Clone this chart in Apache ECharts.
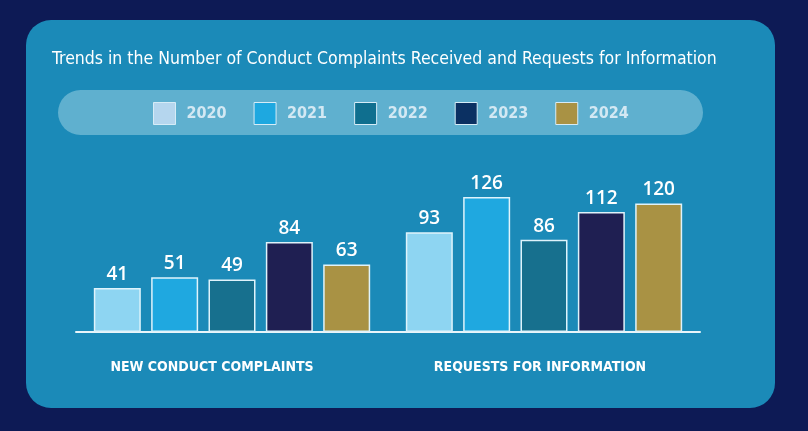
<!DOCTYPE html>
<html>
<head>
<meta charset="utf-8">
<script src="https://cdn.jsdelivr.net/npm/echarts@6/dist/echarts.min.js"></script>
<style>
    html, body { margin: 0; padding: 0; background: #0d1a55; }
    #chart { width: 808px; height: 431px; }
</style>
</head>
<body>
<div id="chart"></div>
<script>
// 数据
const categories = ['NEW CONDUCT COMPLAINTS', 'REQUESTS FOR INFORMATION'];
const years = ['2020', '2021', '2022', '2023', '2024'];
const values2020 = [41, 93];
const values2021 = [51, 126];
const values2022 = [49, 86];
const values2023 = [84, 112];
const values2024 = [63, 120];

const seriesValues = [values2020, values2021, values2022, values2023, values2024];
const barColors = ['#8ed5f2', '#1fa8e0', '#17708e', '#1f1f52', '#a99244'];
const swatchColors = ['#b5d6ee', '#1ea8e0', '#0f6f8f', '#0b3062', '#a99244'];
const labelShift = [40, 8]; // 分类标签左移

// 窄体字：借助 font 简写里的 condensed
const narrow = '"Liberation Sans Narrow", "DejaVu Sans", sans-serif';

const chart = echarts.init(document.getElementById('chart'));

const option = {
    backgroundColor: '#0d1a55',
    animation: false,
    graphic: [
        {
            type: 'rect',
            z: -10,
            shape: { x: 26, y: 20, width: 749, height: 388, r: 25 },
            style: { fill: '#1b8ab8' }
        },
        {
            type: 'rect',
            z: -9,
            shape: { x: 58, y: 90, width: 645, height: 45, r: 22.5 },
            style: { fill: '#5fb0cf' }
        }
    ],
    title: {
        text: 'Trends in the Number of Conduct Complaints Received and Requests for Information',
        left: 52,
        top: 50,
        padding: 0,
        textStyle: {
            color: '#ffffff',
            fontFamily: narrow,
            fontWeight: 'condensed',
            fontSize: 17.5
        }
    },
    legend: {
        left: 153,
        top: 102,
        padding: 0,
        itemWidth: 22,
        itemHeight: 22,
        itemGap: 27,
        icon: 'rect',
        data: years.map((y, i) => ({
            name: y,
            itemStyle: { color: swatchColors[i], borderColor: '#d6ecf7', borderWidth: 1 }
        })),
        textStyle: {
            color: '#d3e8f3',
            fontFamily: narrow,
            fontWeight: 'bold condensed',
            fontSize: 16,
            padding: [0, 0, 0, 6]
        }
    },
    grid: {
        left: 76,
        right: 108,
        top: 182,
        bottom: 99
    },
    xAxis: {
        type: 'category',
        data: categories.map((c, i) => ({
            value: c,
            textStyle: { padding: [0, labelShift[i], 0, 0] }
        })),
        axisLine: { lineStyle: { color: '#e9f5fa', width: 2 } },
        axisTick: { show: false },
        axisLabel: {
            interval: 0,
            color: '#ffffff',
            fontFamily: narrow,
            fontWeight: 'bold condensed',
            fontSize: 14,
            margin: 28
        }
    },
    yAxis: {
        type: 'value',
        min: 0,
        max: 140,
        show: false,
        splitLine: { show: false }
    },
    series: years.map((y, i) => ({
        name: y,
        type: 'bar',
        data: seriesValues[i],
        barWidth: 47,
        barGap: '22%',
        itemStyle: {
            color: barColors[i],
            borderColor: '#dff3fb',
            borderWidth: 1.5
        },
        label: {
            show: true,
            position: 'top',
            distance: 4,
            color: '#ffffff',
            fontFamily: '"Open Sans", sans-serif',
            fontWeight: 600,
            fontSize: 19
        }
    }))
};

chart.setOption(option);
</script>
</body>
</html>
